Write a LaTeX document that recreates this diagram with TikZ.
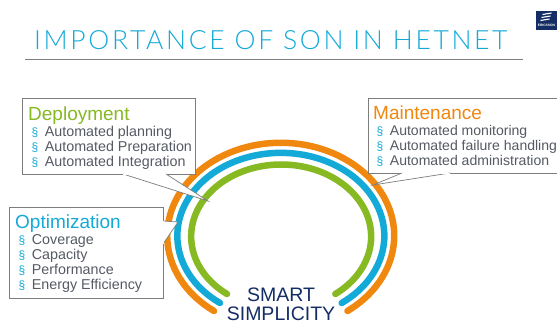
\documentclass[tikz,border=0pt]{standalone}
\usepackage{fontspec}
\setmainfont{Liberation Sans}
\newfontfamily\titlefont[LetterSpace=10]{Lato Light}
\usetikzlibrary{calc,positioning}
\definecolor{sonblue}{RGB}{20,170,215}
\definecolor{sonorange}{RGB}{240,135,15}
\definecolor{songreen}{RGB}{135,185,35}
\definecolor{sonnavy}{RGB}{20,45,100}
\definecolor{songray}{RGB}{125,125,125}
\definecolor{sontext}{RGB}{85,90,100}
\newcommand{\sonfont}[1]{\fontsize{#1}{#1}\selectfont}
\newcommand{\sonitem}[1]{\hspace*{3.5pt}{\color{sonblue}\fontsize{12}{15}\selectfont\S}\hspace{6.5pt}#1}
\begin{document}
\begin{tikzpicture}[x=1pt,y=-1pt]
	\useasboundingbox (0,0) rectangle (557,322);

	\tikzstyle{ring} = [line width=6.5pt, line cap=round]
	\tikzstyle{callout} = [draw=songray, fill=white, line width=0.8pt, anchor=north west, inner sep=0pt]
	\tikzstyle{tail} = [draw=songray, fill=white, line width=0.7pt]
	\tikzstyle{boxhead} = [anchor=north west, inner sep=0pt, text height=14pt, text depth=4pt, font=\sonfont{19}]
	\tikzstyle{boxitems} = [anchor=north west, align=left, inner sep=0pt, text=sontext, font=\fontsize{14.3}{15}\selectfont]

	% title and rule
	\node [anchor=west, inner sep=0pt, text=sonblue] (title) at (34,40) {\titlefont\sonfont{26.5}IMPORTANCE OF SON IN HETNET};
	\coordinate (ruleleft) at (25,59);
	\coordinate (ruleright) at (523,59);
	\draw [songray, line width=0.8pt] (ruleleft) -- (ruleright);

	% logo
	\node [anchor=north west, fill=sonnavy, minimum width=21.5pt, minimum height=19pt, inner sep=0pt] (logo) at (535.5,10.5) {};
	\draw [white, line width=1.1pt] ([xshift=7pt,yshift=-4pt]logo.north west) -- ++(9,-1.5);
	\draw [white, line width=1.1pt] ([xshift=6pt,yshift=-7pt]logo.north west) -- ++(9,-1.5);
	\draw [white, line width=1.1pt] ([xshift=5pt,yshift=-10pt]logo.north west) -- ++(9,-1.5);
	\node [inner sep=0pt, text=white] (logotext) at ([yshift=-5pt]logo.center) {\bfseries\sonfont{3.3}ERICSSON};

	% rings
	\draw [ring, sonorange] (214,311) arc [start angle=126, end angle=414, x radius=113.5, y radius=93];
	\draw [ring, sonblue] (220,303) arc [start angle=126, end angle=414, x radius=103.5, y radius=83];
	\draw [ring, songreen] (227,294) arc [start angle=127, end angle=413, x radius=90, y radius=72];

	% callouts
	\node [callout, minimum width=173pt, minimum height=76pt] (deployment) at (22,98) {};
	\node [callout, minimum width=154pt, minimum height=91pt] (optimization) at (9,207) {};
	\node [callout, minimum width=200pt, minimum height=75pt] (maintenance) at (368,98) {};

	\coordinate (deployleft) at (123,174);
	\coordinate (deployright) at (166,174);
	\coordinate (deploytip) at (208,201);
	\filldraw [tail] (deployleft) -- (deploytip) -- (deployright);
	\draw [white, line width=1pt] (deployleft) -- (deployright);

	\coordinate (optimtop) at (163,221);
	\coordinate (optimbottom) at (163,244);
	\coordinate (optimtip) at (178,222);
	\filldraw [tail] (optimtop) -- (optimtip) -- (optimbottom);
	\draw [white, line width=1pt] (optimtop) -- (optimbottom);

	\coordinate (maintleft) at (402,173);
	\coordinate (maintright) at (450,173);
	\coordinate (mainttip) at (373,185);
	\filldraw [tail] (maintleft) -- (mainttip) -- (maintright);
	\draw [white, line width=1pt] (maintleft) -- (maintright);

	% callout texts
	\node [boxhead, text=songreen] (deployhead) at (28,106) {Deployment};
	\node [boxitems, below=1.7pt of deployhead.south west, anchor=north west] (deployitems) {\sonitem{Automated planning}\\\sonitem{Automated Preparation}\\\sonitem{Automated Integration}};

	\node [boxhead, text=sonblue] (optimhead) at (15,214) {Optimization};
	\node [boxitems, below=1.7pt of optimhead.south west, anchor=north west] (optimitems) {\sonitem{Coverage}\\\sonitem{Capacity}\\\sonitem{Performance}\\\sonitem{Energy Efficiency}};

	\node [boxhead, text=sonorange] (mainthead) at (373,105) {Maintenance};
	\node [boxitems, below=1.7pt of mainthead.south west, anchor=north west, font=\fontsize{14.05}{15}\selectfont] (maintitems) {\sonitem{Automated monitoring}\\\sonitem{Automated failure handling}\\\sonitem{Automated administration}};

	% centre text
	\node [align=center, inner sep=0pt, text=sonnavy, anchor=north, font=\fontsize{19.5}{18.5}\selectfont] (smart) at (281,288) {SMART\\SIMPLICITY};
\end{tikzpicture}
\end{document}
